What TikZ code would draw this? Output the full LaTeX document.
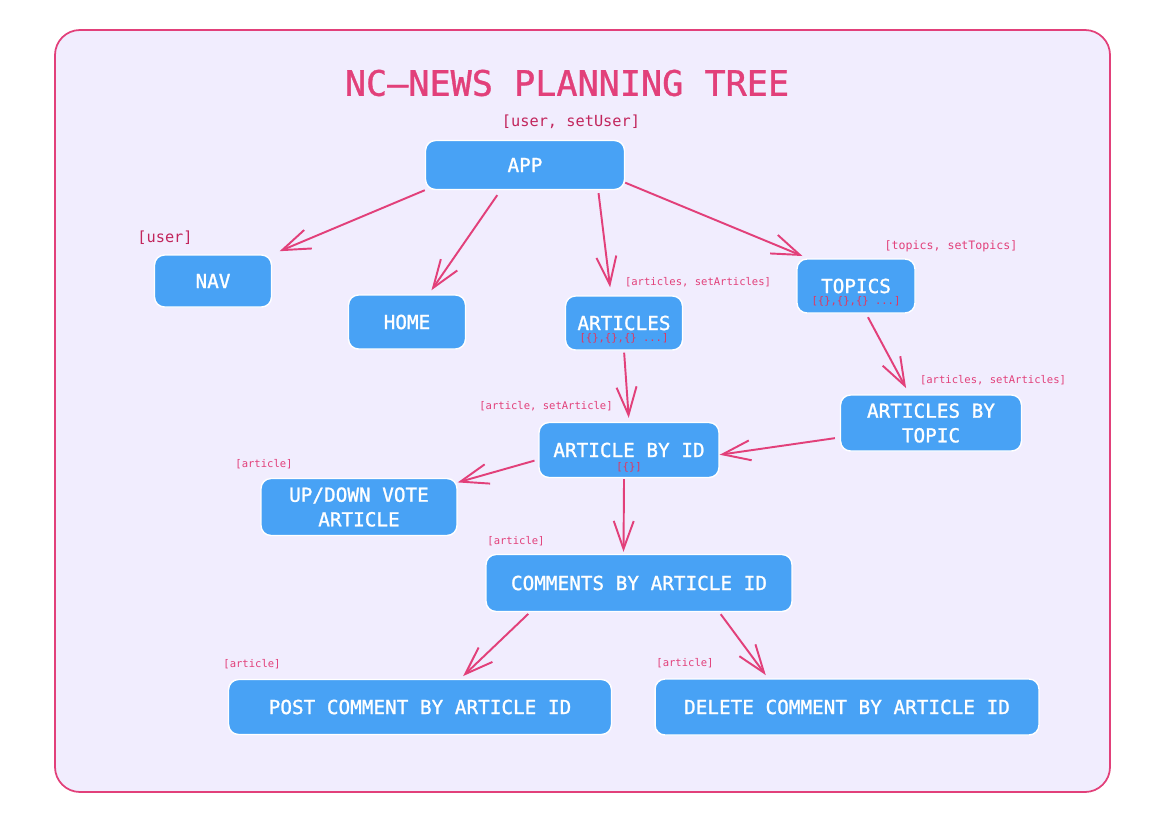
\documentclass[tikz,border=0pt]{standalone}
\usepackage{fontspec}
\setmainfont{DejaVu Sans Mono}
\newfontfamily\boxfont{DejaVu Sans Mono}[FakeBold=1.2]
\newfontfamily\titlefont{DejaVu Sans Mono}[FakeBold=1]
\usepackage{tikz}
\usetikzlibrary{positioning}
\usetikzlibrary{arrows.meta}
\definecolor{bglav}{HTML}{F1EDFE}
\definecolor{boxblue}{HTML}{48A2F5}
\definecolor{pinkline}{HTML}{E2407A}
\definecolor{darkpink}{HTML}{C2255C}
\definecolor{subred}{HTML}{E2365E}
\tikzstyle{box} = [rectangle, rounded corners=0.2cm, minimum height=1.08cm, text centered, align=center, draw=white, line width=0.8pt, fill=boxblue, text=white, font=\boxfont\fontsize{11}{14}\selectfont]
\tikzstyle{subtxt} = [inner sep=0pt, text=subred, font=\fontsize{6}{7}\selectfont]
\tikzstyle{statelbl} = [inner sep=0pt, text=darkpink, font=\fontsize{8.7}{10}\selectfont]
\tikzstyle{smalllbl} = [inner sep=0pt, text=pinkline, font=\fontsize{6}{7}\selectfont]
\tikzstyle{arrow} = [line width=1.1pt, draw=pinkline, -{Straight Barb[length=5.6mm, width=4mm]}]

\begin{document}
\begin{tikzpicture}[x=0.02cm, y=-0.02cm]

	\useasboundingbox (0,0) rectangle (1165,815);
	\draw [pinkline, fill=bglav, line width=1pt, rounded corners=0.5cm] (55,30) rectangle (1110,792);

	\node (title) [text=pinkline, font=\titlefont\fontsize{20}{24}\selectfont] at (567,83) {NC–NEWS PLANNING TREE};

	\node (app)[box, minimum width=3.98cm, minimum height=0.98cm] at (525,165) {APP};
	\node (nav)[box, minimum width=2.34cm, minimum height=1.04cm] at (213,281) {NAV};
	\node (home)[box, minimum width=2.34cm] at (407,322) {HOME};
	\node (art)[box, minimum width=2.34cm] at (624,323) {ARTICLES};
	\node (topics)[box, minimum width=2.36cm] at (856,286) {TOPICS};
	\node (abt)[box, minimum width=3.62cm, minimum height=1.12cm] at (931,423) {ARTICLES BY\\TOPIC};
	\node (abid)[box, minimum width=3.6cm, minimum height=1.1cm] at (629,450) {ARTICLE BY ID};
	\node (vote)[box, minimum width=3.92cm, minimum height=1.14cm] at (359,507) {UP/DOWN VOTE\\ARTICLE};
	\node (comments)[box, minimum width=6.12cm, minimum height=1.14cm] at (639,583) {COMMENTS BY ARTICLE ID};
	\node (post)[box, minimum width=7.66cm, minimum height=1.1cm] at (420,707) {POST COMMENT BY ARTICLE ID};
	\node (delete)[box, minimum width=7.68cm, minimum height=1.12cm] at (847,707) {DELETE COMMENT BY ARTICLE ID};

	\node (artsub)[subtxt, above=0.14cm of art.south] {[\{\},\{\},\{\} ...]};
	\node (topicssub)[subtxt, above=0.14cm of topics.south] {[\{\},\{\},\{\} ...]};
	\node (abidsub)[subtxt, above=0.12cm of abid.south] {[\{\}]};

	\node (appstate)[statelbl] at (571,122) {[user, setUser]};
	\node (navstate)[statelbl] at (165,238) {[user]};
	\node (artstate)[smalllbl] at (698,282) {[articles, setArticles]};
	\node (topicsstate)[smalllbl, font=\fontsize{6.6}{8}\selectfont] at (951,246) {[topics, setTopics]};
	\node (abtstate)[smalllbl] at (993,380) {[articles, setArticles]};
	\node (abidstate)[smalllbl] at (546,406) {[article, setArticle]};
	\node (votestate)[smalllbl] at (264,464) {[article]};
	\node (commentsstate)[smalllbl] at (516,541) {[article]};
	\node (poststate)[smalllbl] at (252,664) {[article]};
	\node (deletestate)[smalllbl] at (685,663) {[article]};



	\draw [arrow, shorten >=0.16cm] (app.south west) -- (nav.north east);
	\draw [arrow, shorten <=0.12cm, shorten >=0.1cm] (app.226) -- (home.52);
	\draw [arrow, shorten <=0.06cm, shorten >=0.16cm] (app.341) -- (art.115);
	\draw [arrow, shorten >=0.12cm] (app.350) -- (topics.150);

	\draw [arrow, shorten <=0.04cm, shorten >=0.08cm] (art.south) -- (abid.north);
	\draw [arrow, shorten <=0.08cm, shorten >=0.14cm] (topics.290) -- (abt.127);
	\draw [arrow, shorten <=0.1cm] (abt.189) -- (abid.357);

	\draw [arrow, shorten <=0.08cm] (abid.186) -- (vote.14);
	\draw [arrow, shorten <=0.02cm, shorten >=0.04cm] (abid.260) -- (comments.118);

	\draw [arrow, shorten <=0.05cm, shorten >=0.08cm] (comments.195) -- (post.35);
	\draw [arrow, shorten <=0.05cm, shorten >=0.08cm] (comments.340) -- (delete.160);

	\end{tikzpicture}
\end{document}
